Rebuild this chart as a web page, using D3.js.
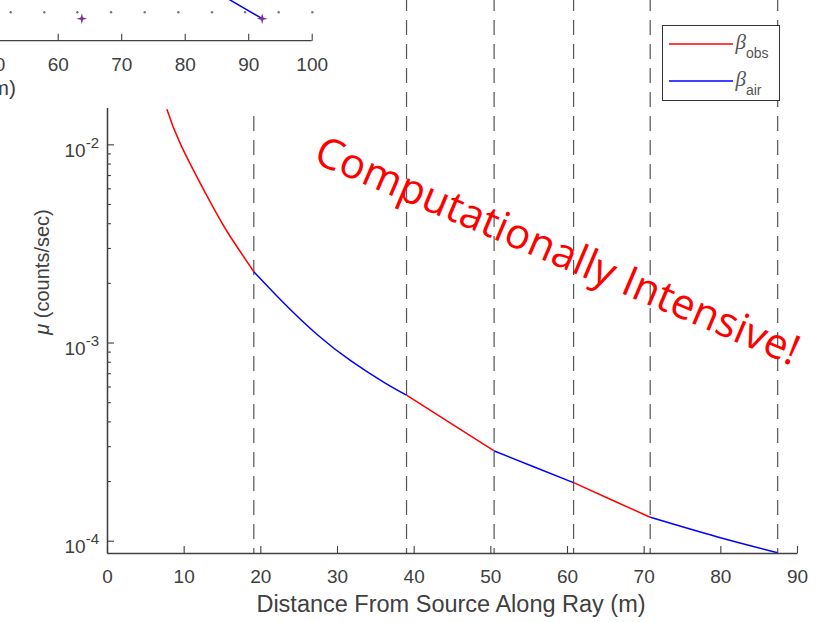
<!DOCTYPE html>
<html>
<head>
<meta charset="utf-8">
<script src="https://cdn.jsdelivr.net/npm/d3@7/dist/d3.min.js"></script>
<style>
body { margin: 0; background: #fff; }
svg { display: block; font-family: "Liberation Sans", Arial, sans-serif; }
</style>
</head>
<body>
<script>
// curve (distance in m, mu in counts/sec)
var distance = [7.81, 9.6, 13.32, 15.80, 19.15, 23.09, 27.44, 31.78, 36.12, 39.07, 44.80, 50.49, 55.65, 60.86, 66.07, 70.85, 79.54, 87.48];
var mu = [0.01502, 0.0100, 0.00524, 0.00356, 0.002276, 0.001578, 0.001095, 0.000810, 0.000630, 0.000543, 0.000392, 0.000284, 0.000236, 0.0001963, 0.0001592, 0.0001313, 0.0001047, 0.0000869];

// ray crossings and the medium of each piece between them
var boundaries = [19.15, 39.07, 50.49, 60.86, 70.85, 87.48];
var media = ['obs', 'air', 'obs', 'air', 'obs', 'air'];

var xTicks = [0, 10, 20, 30, 40, 50, 60, 70, 80, 90];
var yTicks = [1e-4, 1e-3, 1e-2];
var xDomain = [0, 90];
var yDomain = [8.67e-5, 0.0535];

// the inset figure at the top left (only its bottom is visible)
var insetTicks = [50, 60, 70, 80, 90, 100];
var insetDots = [52.6, 57.9, 63.1, 68.4, 73.7, 79.0, 84.3, 89.5, 94.8, 100.1];
var insetStars = [63.8, 92.2];
var insetRayX = [86.6, 92.2];
var insetRayY = [1.05, 0.54];

var colors = {obs: '#ff0000', air: '#0000ff'};
var ink = '#404040';

var margin = {top: 0, right: 31, bottom: 69, left: 107},
    width = 828 - margin.left - margin.right,
    height = 622 - margin.top - margin.bottom;

var svg = d3.select('body').append('svg').attr('width', 828).attr('height', 622);
var ctrl = svg.append('g').attr('transform', 'translate(' + margin.left + ',' + margin.top + ')');

var x = d3.scaleLinear().domain(xDomain).range([0, width]);
var y = d3.scaleLog().domain(yDomain).range([height, 0]);

// dashed crossings
ctrl.selectAll('.cross').data(boundaries).enter().append('line')
  .attr('x1', function(d){ return x(d); }).attr('x2', function(d){ return x(d); })
  .attr('y1', -4).attr('y2', height)
  .attr('stroke', '#555').attr('stroke-width', 1.2).attr('stroke-dasharray', '15,9');

// curve pieces: smooth inside a medium, slope changes at each crossing
var pts = distance.map(function(d, i){ return [d, mu[i]]; });
var line = d3.line().x(function(d){ return x(d[0]); }).y(function(d){ return y(d[1]); }).curve(d3.curveNatural);
media.forEach(function(m, i) {
  var lo = i === 0 ? distance[0] : boundaries[i - 1], hi = boundaries[i];
  var seg = pts.filter(function(p){ return p[0] >= lo - 1e-9 && p[0] <= hi + 1e-9; });
  ctrl.append('path').datum(seg).attr('d', line)
    .attr('fill', 'none').attr('stroke', colors[m]).attr('stroke-width', 1.5);
});

// axes
var xAxis = ctrl.append('g').attr('transform', 'translate(0,' + height + ')')
  .call(d3.axisBottom(x).tickValues(xTicks).tickSizeInner(-7).tickSizeOuter(0).tickPadding(17));
var yMinor = [];
[1e-4, 1e-3, 1e-2].forEach(function(dec){ for (var k = 2; k <= 9; k++) yMinor.push(dec * k); });
ctrl.append('g').call(d3.axisLeft(y).tickValues(yMinor.filter(function(v){ return v < yDomain[1]; }))
  .tickSizeInner(-4).tickSizeOuter(0).tickFormat(''));
var yAxis = ctrl.append('g')
  .call(d3.axisLeft(y).tickValues(yTicks).tickSizeInner(-7).tickSizeOuter(0).tickPadding(8));

ctrl.selectAll('.domain').attr('stroke', ink).attr('stroke-width', 1.3);
ctrl.selectAll('.tick line').attr('stroke', ink).attr('stroke-width', 1.1);
xAxis.selectAll('text').attr('font-size', 19).attr('fill', ink);
yAxis.selectAll('.tick text').text(null).attr('font-size', 19).attr('fill', ink).attr('dy', '0.62em')
  .each(function(d) {
    var t = d3.select(this);
    t.append('tspan').text('10');
    t.append('tspan').attr('dy', -9).attr('font-size', 15).text(Math.round(Math.log10(d)));
  });

ctrl.append('text').attr('x', width / 2 - 1).attr('y', height + 59).attr('text-anchor', 'middle')
  .attr('font-size', 23.5).attr('fill', ink).text('Distance From Source Along Ray (m)');
var yl = ctrl.append('text').attr('transform', 'translate(-58,' + 272 + ') rotate(-90)')
  .attr('text-anchor', 'middle').attr('font-size', 20).attr('fill', ink);
yl.append('tspan').attr('font-style', 'italic').text('\u03bc');
yl.append('tspan').text(' (counts/sec)');

// inset, drawn over the top left corner
var inset = svg.append('g');
inset.append('rect').attr('x', 0).attr('y', 0).attr('width', 338).attr('height', 108).attr('fill', '#fff');
var ix = d3.scaleLinear().domain([60, 100]).range([57.7, 311.7]);
var iy = d3.scaleLinear().domain([0, 1]).range([40.7, 0]);
inset.selectAll('.dot').data(insetDots).enter().append('circle')
  .attr('cx', function(d){ return ix(d); }).attr('cy', iy(0.698)).attr('r', 1.2).attr('fill', '#777');
inset.append('path').datum(insetRayX.map(function(d, i){ return [d, insetRayY[i]]; }))
  .attr('d', d3.line().x(function(d){ return ix(d[0]); }).y(function(d){ return iy(d[1]); }))
  .attr('stroke', '#0000ff').attr('stroke-width', 1.5).attr('fill', 'none');
function star4(r, ri) {
  var p = [];
  for (var k = 0; k < 8; k++) {
    var a = k * Math.PI / 4, rr = k % 2 ? ri : r;
    p.push([rr * Math.sin(a), -rr * Math.cos(a)]);
  }
  return 'M' + p.join('L') + 'Z';
}
inset.selectAll('.star').data(insetStars).enter().append('path')
  .attr('transform', function(d){ return 'translate(' + ix(d) + ',' + iy(0.54) + ')'; })
  .attr('d', star4(5.5, 1.6)).attr('fill', '#7e2f8e');
var iax = inset.append('g').attr('transform', 'translate(0,' + iy(0) + ')')
  .call(d3.axisBottom(ix).tickValues(insetTicks).tickSizeInner(-7).tickSizeOuter(0).tickPadding(17));
iax.select('.domain').attr('d', 'M0,0H' + ix(100)).attr('stroke', ink).attr('stroke-width', 1.3);
iax.selectAll('.tick line').attr('stroke', ink).attr('stroke-width', 1.1);
iax.selectAll('text').attr('font-size', 19).attr('fill', ink);
inset.append('text').attr('x', 16).attr('y', 95).attr('text-anchor', 'end')
  .attr('font-size', 21).attr('fill', ink).text('Distance From Source Along Ray (m)');

// legend
var lg = svg.append('g').attr('transform', 'translate(662.5,25.5)');
lg.append('rect').attr('width', 117).attr('height', 75).attr('fill', '#fff').attr('stroke', '#333').attr('stroke-width', 1);
media.slice(0, 2).forEach(function(m, i) {
  var yy = 18.5 + i * 37;
  lg.append('line').attr('x1', 6.5).attr('x2', 70.5).attr('y1', yy).attr('y2', yy)
    .attr('stroke', colors[m]).attr('stroke-width', 1.3);
  var t = lg.append('text').attr('x', 73).attr('y', yy + 5).attr('fill', '#555');
  t.append('tspan').attr('font-family', '"Liberation Serif", serif').attr('font-style', 'italic')
    .attr('font-size', 21).text('\u03b2');
  t.append('tspan').attr('dy', 9).attr('font-size', 14).text(m);
});

// slide annotation
svg.append('text').attr('transform', 'translate(312,162) rotate(23)')
  .attr('font-family', '"Open Sans", sans-serif').attr('font-size', 42).attr('fill', '#ff0000')
  .text('Computationally Intensive!');
</script>
</body>
</html>
